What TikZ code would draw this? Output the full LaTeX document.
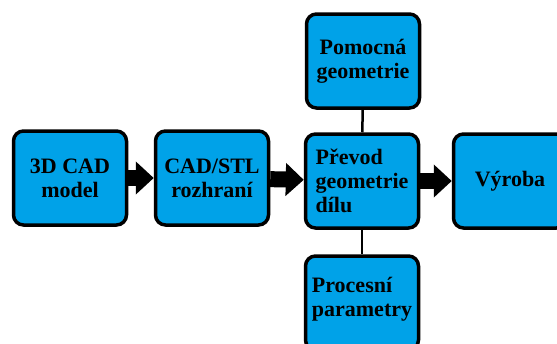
\documentclass[tikz,border=0pt]{standalone}
\usepackage{fontspec}
\setmainfont{Liberation Serif}
\usepackage{tikz}
\usetikzlibrary{arrows.meta,positioning}
\definecolor{modra}{HTML}{00A2E8}
\tikzset{
  blok/.style={draw=black,line width=3.5pt,rounded corners=10pt,fill=modra,
               align=center,font=\bfseries\fontsize{22}{24}\selectfont,
               minimum width=113pt,minimum height=94pt,inner sep=2pt},
  sipka/.style={-{Triangle[length=18pt,width=32pt]},line width=16pt,color=black},
  spoj/.style={line width=2.5pt,color=black},
}
\begin{document}
\begin{tikzpicture}[x=1pt,y=-1pt]
  \useasboundingbox (0,0) rectangle (557,343);
  \node[blok] (model) at (70,178) {3D CAD\\model};
  \node[blok] (rozhrani) at (212,178) {CAD/STL\\rozhraní};
  \node[blok,align=left] (prevod) at (362,181) {Převod\\geometrie\\dílu};
  \node[blok] (pomocna) at (363,61) {Pomocná\\geometrie};
  \node[blok] (vyroba) at (510,181) {Výroba};
  \node[blok,align=left,text depth=12pt] (procesni) at (362,303) {Procesní\\parametry};
  \draw[sipka] (model)--(rozhrani); \draw[sipka] (rozhrani)--(prevod);
  \draw[sipka] (prevod)--(vyroba);
  \draw[spoj] (pomocna)--(prevod); \draw[spoj] (prevod)--(procesni);
\end{tikzpicture}
\end{document}
